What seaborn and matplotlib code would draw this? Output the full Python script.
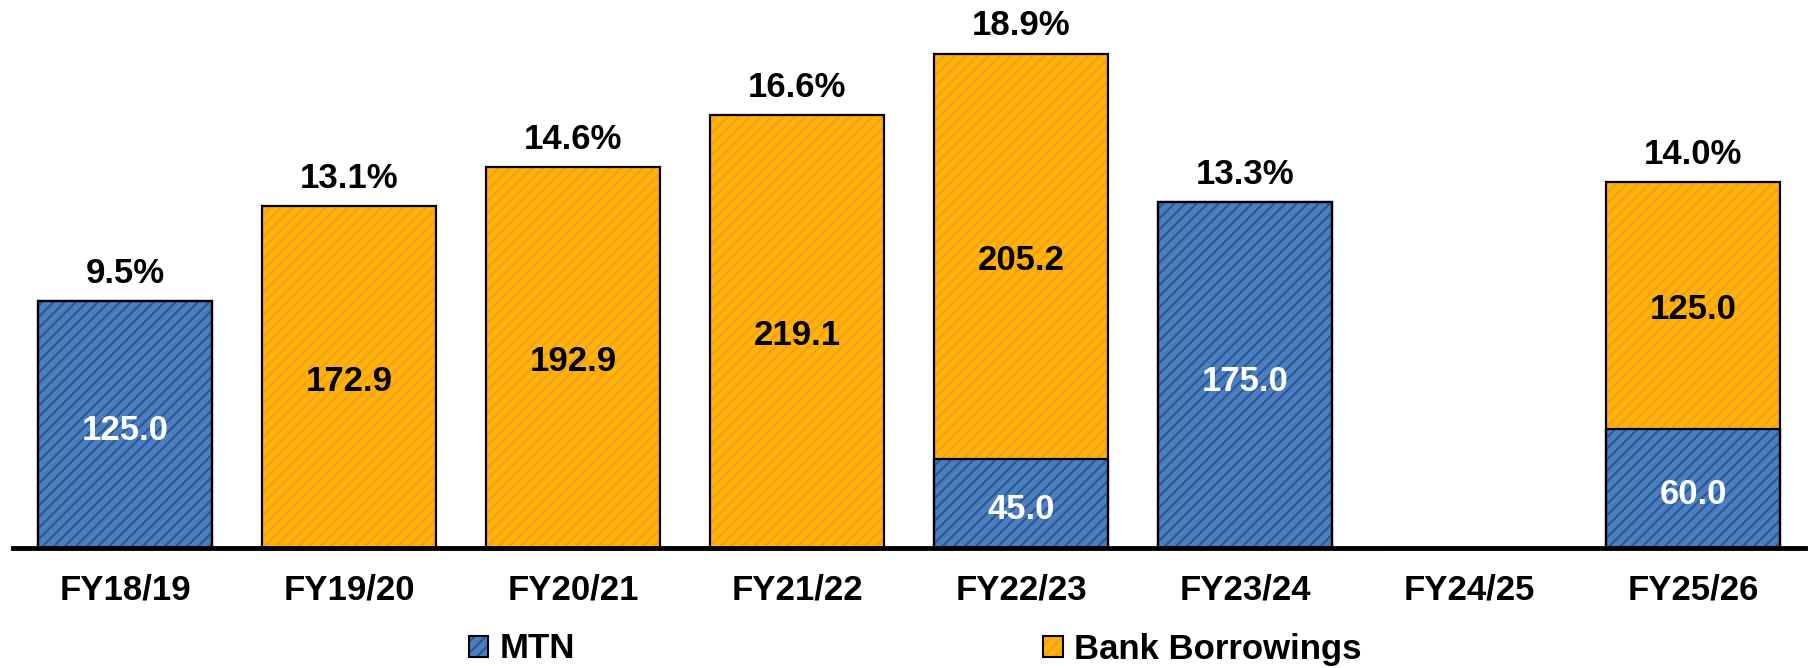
import numpy as np
import seaborn as sns
import matplotlib.pyplot as plt
from matplotlib.patches import Patch
from matplotlib.colors import to_rgba

years = ["FY18/19", "FY19/20", "FY20/21", "FY21/22", "FY22/23", "FY23/24", "FY24/25", "FY25/26"]
mtn = [125.0, 0, 0, 0, 45.0, 175.0, 0, 60.0]
bank = [0, 172.9, 192.9, 219.1, 205.2, 0, 0, 125.0]
pct = ["9.5%", "13.1%", "14.6%", "16.6%", "18.9%", "13.3%", None, "14.0%"]

blue, blue_dk = "#4a7ebf", "#2c5690"
orange, orange_dk = "#ffb400", "#f29a35"

sns.set_style("white")
plt.rcParams['font.family'] = ['Liberation Sans', 'DejaVu Sans']
plt.rcParams['font.weight'] = 'bold'
plt.rcParams['text.color'] = 'black'
plt.rcParams['xtick.color'] = 'black'
plt.rcParams['hatch.linewidth'] = 1.5
fs = 25

totals = np.array(mtn) + np.array(bank)

fig = plt.figure(figsize=(18.1, 6.68), dpi=100)
ax = fig.add_axes([13/1810, 120/668, 1792/1810, 548/668])

# totals in orange, MTN drawn over them from zero
sns.barplot(x=years, y=totals, color=orange, saturation=1, width=0.78, ax=ax)
sns.barplot(x=years, y=mtn, color=blue, saturation=1, width=0.78, ax=ax)
for cont, dk in zip(ax.containers, [orange_dk, blue_dk]):
    for p in cont:
        p.set_hatch("///")
        p.set_edgecolor(dk)
        p.set_linewidth(0)

x = np.arange(len(years))
ax.bar(x, totals, width=0.78, fill=False, edgecolor="black", linewidth=1.6, zorder=3)
ax.bar(x, mtn, width=0.78, fill=False, edgecolor="black", linewidth=1.6, zorder=3)

for i in range(len(years)):
    if mtn[i] > 0:
        ax.text(i, mtn[i] / 2 - 3, f"{mtn[i]:.1f}", ha="center", va="center",
                color="white", fontsize=fs, fontweight="bold", zorder=4)
    if bank[i] > 0:
        ax.text(i, mtn[i] + bank[i] / 2 - 2, f"{bank[i]:.1f}", ha="center", va="center",
                color="black", fontsize=fs, fontweight="bold", zorder=4)
    if pct[i]:
        ax.annotate(pct[i], (i, totals[i]), xytext=(0, 8), textcoords="offset points",
                    ha="center", va="bottom", fontsize=fs, fontweight="bold", color="black")

ax.set_xlim(-0.5, 7.5)
ax.set_ylim(0, 548 / 1.976)
ax.set_yticks([])
ax.set_ylabel("")
for s in ["top", "left", "right"]:
    ax.spines[s].set_visible(False)
ax.spines["bottom"].set_linewidth(3.5)
ax.spines["bottom"].set_color("black")
ax.spines["bottom"].set_zorder(5)
ax.set_xticks(x)
ax.set_xticklabels(years, fontsize=fs, fontweight="bold", color="black")
ax.set_xticks(np.arange(-0.5, 8), minor=True)
ax.tick_params(axis="x", which="major", length=0, pad=18)
ax.tick_params(axis="x", which="minor", length=8.5, width=3, color="black", direction="out")

handles = []
for fc, dk, lab in [(blue, blue_dk, "MTN"), (orange, orange_dk, "Bank Borrowings")]:
    h = Patch(facecolor=fc, edgecolor="black", hatch="///", linewidth=1.5, label=lab)
    h._hatch_color = to_rgba(dk)
    handles.append(h)
leg = fig.legend(handles=handles, loc="center left", bbox_to_anchor=(469/1810, 1 - 649/668),
                 ncol=2, frameon=False, fontsize=fs, handlelength=0.55, handleheight=0.55,
                 handletextpad=0.32, columnspacing=13.5, borderpad=0, borderaxespad=0)
for t in leg.get_texts():
    t.set_color("black")

fig.savefig("out.png", dpi=100)
